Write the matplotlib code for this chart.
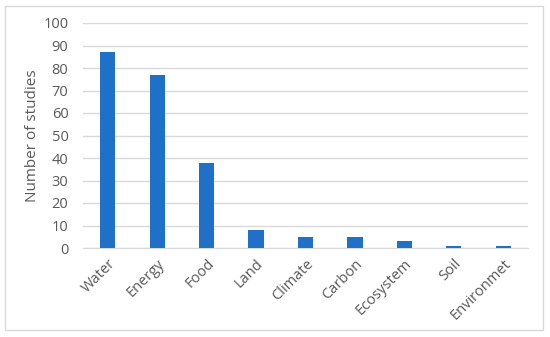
import matplotlib.pyplot as plt
from matplotlib.patches import Rectangle

categories = ['Water', 'Energy', 'Food', 'Land', 'Climate', 'Carbon', 'Ecosystem', 'Soil', 'Environmet']
studies = [87, 77, 38, 8, 5, 5, 3, 1, 1]

plt.rcParams['font.family'] = ['Open Sans', 'DejaVu Sans']
grey = '#595959'

fig = plt.figure(figsize=(5.5, 3.37), dpi=100)
ax = fig.add_axes([83/550, 1 - 248/337, 445/550, 225/337])

x = range(len(categories))
ax.bar(x, studies, width=0.31, color='#1F70C8', zorder=3)

ax.set_xlim(-0.5, len(categories) - 0.5)
ax.set_ylim(0, 100)
ax.set_yticks(range(0, 101, 10))
ax.yaxis.grid(True, color='#d9d9d9', linewidth=1, zorder=0)
ax.set_xticks(list(x))
ax.set_xticklabels(categories, rotation=45, ha='right', rotation_mode='anchor')
ax.tick_params(axis='both', length=0, colors=grey, labelsize=10.5)
ax.tick_params(axis='y', pad=10.5)
ax.tick_params(axis='x', pad=6)
for s in ['top', 'right', 'left']:
    ax.spines[s].set_visible(False)
ax.spines['bottom'].set_color('#d9d9d9')
ax.set_ylabel('Number of studies', color=grey, fontsize=11)
ax.yaxis.set_label_coords(-0.097, 0.5)

# outer chart border
fig.patches.append(Rectangle((5/550, 1 - 330/337), 538/550, 324/337,
                             transform=fig.transFigure, fill=False,
                             edgecolor='#d9d9d9', linewidth=1))

fig.savefig('out.png', dpi=100)
